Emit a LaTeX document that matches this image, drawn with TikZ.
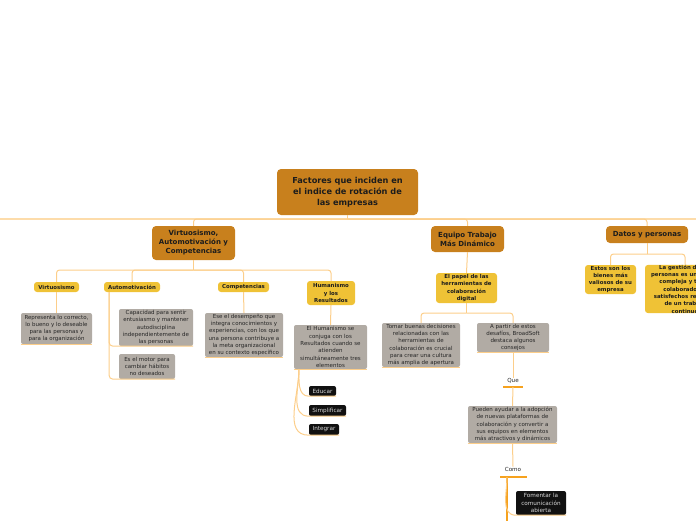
\documentclass[tikz,border=0pt]{standalone}
\usepackage{fontspec}
\setmainfont{DejaVu Sans}
\definecolor{cdark}{HTML}{C8801D}
\definecolor{cyel}{HTML}{EFC236}
\definecolor{cgray}{HTML}{B1ABA4}
\definecolor{cblack}{HTML}{111111}
\definecolor{cline}{HTML}{FCCE8A}
\definecolor{cbus}{HTML}{FDDCAA}
\definecolor{cbar}{HTML}{F6A21E}
\definecolor{ctext}{HTML}{1C1C1C}
\definecolor{cgtext}{HTML}{262626}
\tikzset{
  base/.style={inner sep=0pt, align=center, rounded corners=3pt},
  mainbox/.style={base, fill=cdark, text=ctext, font=\bfseries\fontsize{8.2}{11}\selectfont, rounded corners=4pt},
  brbox/.style={base, fill=cdark, text=ctext, font=\bfseries\fontsize{7}{9}\selectfont, rounded corners=4pt},
  yelbox/.style={base, fill=cyel, text=ctext, font=\bfseries\fontsize{5.4}{7.3}\selectfont},
  graybox/.style={base, fill=cgray, text=cgtext, font=\fontsize{5.5}{7.3}\selectfont, rounded corners=2pt},
  blackbox/.style={base, fill=cblack, text=white!85!black, font=\fontsize{5.7}{7.3}\selectfont, rounded corners=2pt},
  lbl/.style={inner sep=0pt, text=cgtext, font=\fontsize{5.6}{7}\selectfont},
  conn/.style={draw=cline, line width=1pt},
  bus/.style={draw=cbus, line width=1.2pt},
  bar/.style={draw=cbar, line width=2.6pt},
  rc/.style={rounded corners=3pt},
}
\begin{document}
\begin{tikzpicture}[x=1pt, y=-1pt]
\useasboundingbox (0,0) rectangle (696,520);
\clip (0,0) rectangle (696,520);

% nodes
\node[mainbox, minimum width=141, minimum height=46] (main) at (347.5,192) {Factores que inciden en\\el indice de rotación de\\las empresas};
\node[brbox, minimum width=83, minimum height=34] (b1) at (193.5,243) {Virtuosismo,\\Automotivación y\\Competencias};
\node[brbox, minimum width=73, minimum height=26] (b2) at (467.5,239) {Equipo Trabajo\\Más Dinámico};
\node[brbox, minimum width=82, minimum height=17] (b3) at (647,234.5) {Datos y personas};

\node[yelbox, minimum width=45, minimum height=10] (v) at (56.5,287) {Virtuosismo};
\node[yelbox, minimum width=56, minimum height=10] (aut) at (132,287) {Automotivación};
\node[yelbox, minimum width=51, minimum height=10] (comp) at (243.5,287) {Competencias};
\node[yelbox, minimum width=48, minimum height=24] (hum) at (331,293) {Humanismo\\y los\\Resultados};

\node[graybox, minimum width=71, minimum height=31] (g1) at (56.5,328.5) {Representa lo correcto,\\lo bueno y lo deseable\\para las personas y\\para la organización};
\node[graybox, minimum width=74, minimum height=37] (a1) at (156,327.5) {Capacidad para sentir\\entusiasmo y mantener\\autodisciplina\\independientemente de\\las personas};
\node[graybox, minimum width=56, minimum height=25] (a2) at (147,366.5) {Es el motor para\\cambiar hábitos\\no deseados};
\node[graybox, minimum width=78, minimum height=44] (c1) at (244,335) {Ese el desempeño que\\integra conocimientos y\\experiencias, con los que\\una persona contribuye a\\la meta organizacional\\en su contexto específico};
\node[graybox, minimum width=73, minimum height=44] (h1) at (330.5,347) {El Humanismo se\\conjuga con los\\Resultados cuando se\\atienden\\simultáneamente tres\\elementos};
\node[blackbox, minimum width=27, minimum height=10] (ed) at (322.5,391) {Educar};
\node[blackbox, minimum width=37, minimum height=11] (si) at (327.5,410.5) {Simplificar};
\node[blackbox, minimum width=30, minimum height=11] (ig) at (324,429.5) {Integrar};

\node[yelbox, minimum width=61, minimum height=30] (papel) at (466.5,288) {El papel de las\\herramientas de\\colaboración\\digital};
\node[graybox, minimum width=78, minimum height=44] (t1) at (421,345) {Tomar buenas decisiones\\relacionadas con las\\herramientas de\\colaboración es crucial\\para crear una cultura\\más amplia de apertura};
\node[graybox, minimum width=72, minimum height=29] (t2) at (513,337.5) {A partir de estos\\desafíos, BroadSoft\\destaca algunos\\consejos};
\node[lbl] (que) at (513,381) {Que};
\node[graybox, minimum width=89, minimum height=37] (p1) at (512.5,424.5) {Pueden ayudar a la adopción\\de nuevas plataformas de\\colaboración y convertir a\\sus equipos en elementos\\más atractivos y dinámicos};
\node[lbl] (como) at (513,469) {Como};
\node[blackbox, minimum width=50, minimum height=24] (f1) at (541,503) {Fomentar la\\comunicación\\abierta};

\node[yelbox, minimum width=51, minimum height=29] (d1) at (610.5,279.5) {Estos son los\\bienes más\\valiosos de su\\empresa};
\node[yelbox, minimum width=80, minimum height=48] (d2) at (685,289) {La gestión de las\\personas es una tarea\\compleja y tener\\colaboradores\\satisfechos requiere\\de un trabajo\\continuo};

% coordinates
\coordinate (busL) at (0,219);
\coordinate (busR) at (696,219);
\coordinate (j1) at (193.5,270);
\coordinate (as) at (109,292);
\coordinate (hs) at (299,369);
\coordinate (j2) at (466.5,313);
\coordinate (queL) at (503,387);
\coordinate (queR) at (523,387);
\coordinate (queB) at (513,387);
\coordinate (comoL) at (500,477);
\coordinate (comoR) at (527,477);
\coordinate (comoB) at (513,477);
\coordinate (cs) at (507,477);
\coordinate (cend) at (507,521);
\coordinate (j3) at (647,254);

% connectors
\draw[bus] (busL) -- (busR);
\draw[conn] (main.south) -- (main.south |- busL);
\draw[conn, rc] (main.south |- busL) -| (b1.north);
\draw[conn, rc] (main.south |- busL) -| (b2.north);
\draw[conn, rc] (main.south |- busL) -| (b3.north);

\draw[conn] (b1.south) -- (j1);
\draw[conn, rc] (j1) -| (v.north);
\draw[conn, rc] (j1) -| (aut.north);
\draw[conn, rc] (j1) -| (comp.north);
\draw[conn, rc] (j1) -| (hum.north);

\draw[conn] (v.south) -- (g1.north);
\draw[conn, rounded corners=4pt] (as) |- (a1.south west) -- (a1.south east);
\draw[conn, rounded corners=4pt] (as) |- (a2.south west) -- (a2.south east);
\draw[conn] (comp.south) -- (c1.north);
\draw[conn] (hum.south) -- (h1.north);
\draw[conn] (hs) to[out=-90, in=180] (ed.south west) -- (ed.south east);
\draw[conn] (hs) to[out=-90, in=180] (si.south west) -- (si.south east);
\draw[conn] (hs) to[out=-90, in=180] (ig.south west) -- (ig.south east);

\draw[conn] (b2.south) -- (papel.north);
\draw[conn] (papel.south) -- (j2);
\draw[conn, rc] (j2) -| (t1.north);
\draw[conn, rc] (j2) -| (t2.north);
\draw[conn] (t2.south) -- (que.north);
\draw[bar] (queL) -- (queR);
\draw[conn] (queB) -- (p1.north);
\draw[conn] (p1.south) -- (como.north);
\draw[bar] (comoL) -- (comoR);
\draw[draw=cbar, line width=1.1pt] (cs) -- (cend);
\draw[conn] (cs) to[out=-90, in=180] (f1.south west) -- (f1.south east);

\draw[conn] (b3.south) -- (j3);
\draw[conn, rc] (j3) -| (d1.north);
\draw[conn, rc] (j3) -| (d2.north);

% underlines of boxes
\foreach \n in {g1, c1, h1, t1, t2, p1}
  \draw[conn, line width=0.8pt] (\n.south west) -- (\n.south east);
\end{tikzpicture}
\end{document}
